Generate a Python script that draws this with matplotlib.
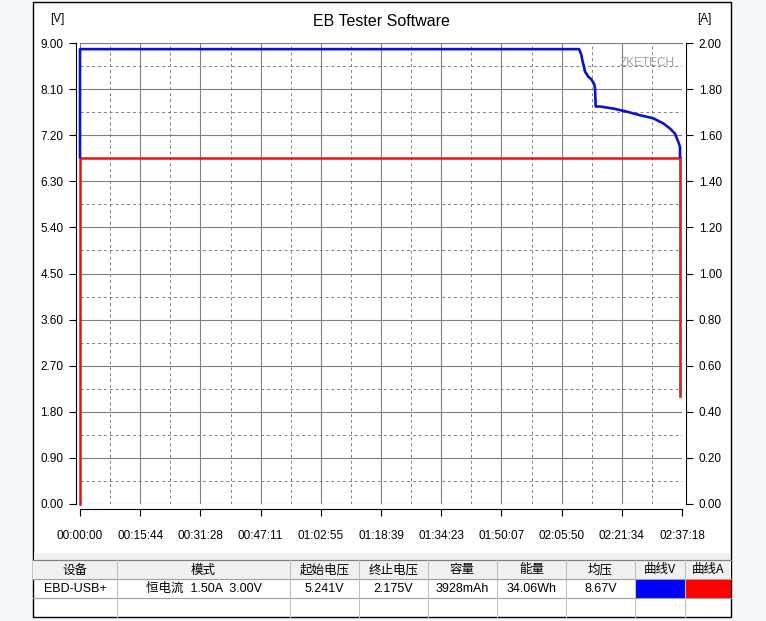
import matplotlib
matplotlib.use('Agg')
import matplotlib.pyplot as plt
from matplotlib.patches import Rectangle
from matplotlib.ticker import FixedLocator

plt.rcParams['font.family'] = ['Liberation Sans', 'Noto Sans CJK SC', 'DejaVu Sans']

# ---- data ----
t_volt = [0, 0, 7823, 7845, 7860, 7881, 7900, 7917, 7940, 7969, 8000, 8022, 8060, 8074, 8085,
          8152, 8361, 8571, 8780, 8988, 9145, 9250, 9328, 9380, 9407, 9407]
volt = [6.77, 8.88, 8.88, 8.82, 8.77, 8.63, 8.55, 8.44, 8.40, 8.34, 8.31, 8.28, 8.20, 8.12, 7.76,
        7.76, 7.72, 7.66, 7.59, 7.53, 7.43, 7.33, 7.23, 7.07, 6.97, 6.78]
t_curr = [0, 0, 9410]
curr = [0.0, 1.50, 1.50]
t_cut = [9410, 9410]
curr_cut = [1.50, 0.47]

t_max = 9438
x_ticks = [i * t_max / 10 for i in range(11)]
x_labels = ['00:00:00', '00:15:44', '00:31:28', '00:47:11', '01:02:55', '01:18:39',
            '01:34:23', '01:50:07', '02:05:50', '02:21:34', '02:37:18']
v_ticks = [0.9 * i for i in range(11)]
v_labels = ['0.00', '0.90', '1.80', '2.70', '3.60', '4.50', '5.40', '6.30', '7.20', '8.10', '9.00']
a_ticks = [0.2 * i for i in range(11)]
a_labels = ['0.00', '0.20', '0.40', '0.60', '0.80', '1.00', '1.20', '1.40', '1.60', '1.80', '2.00']

headers = ['设备', '模式', '起始电压', '终止电压', '容量', '能量', '均压', '曲线V', '曲线A']
row_vals = ['EBD-USB+', '恒电流  1.50A  3.00V', '5.241V', '2.175V', '3928mAh',
            '34.06Wh', '8.67V', '', '']
cell_colors = [None, None, None, None, None, None, None, '#0000FF', '#FF0000']

W, H = 766, 621
fig = plt.figure(figsize=(W / 100, H / 100), dpi=100)
fig.patch.set_facecolor('#F4F7FC')

# pixel-space background layer
bg = fig.add_axes([0, 0, 1, 1], zorder=-5)
bg.set_xlim(0, W)
bg.set_ylim(H, 0)
bg.axis('off')
bg.add_patch(Rectangle((33, 2), 698, 615, facecolor='white', edgecolor='black', lw=1))
bg.add_patch(Rectangle((34, 553), 696, 7, facecolor='#F0F0F0', edgecolor='none'))

# table
col_x = [33, 117, 290, 359, 428, 497, 566, 635, 685, 731]
row_y = [560, 579, 598, 617]
bg.add_patch(Rectangle((33, 560), 698, 19, facecolor='#F0F0F0', edgecolor='none'))
for i in range(len(headers)):
    if cell_colors[i]:
        bg.add_patch(Rectangle((col_x[i], 579), col_x[i + 1] - col_x[i], 19,
                               facecolor=cell_colors[i], edgecolor='none'))
for y in row_y[:-1]:
    bg.plot([33, 731], [y, y], color='#A0A0A0', lw=0.8)
bg.plot([33, 731], [560, 560], color='#808080', lw=0.8)
for x in col_x[1:-1]:
    bg.plot([x, x], [560, 617], color='#C0C0C0', lw=0.8)
for i, (hd, v) in enumerate(zip(headers, row_vals)):
    cx = (col_x[i] + col_x[i + 1]) / 2
    bg.text(cx, 570, hd, ha='center', va='center', fontsize=9,
            family=['Noto Sans CJK SC', 'DejaVu Sans'])
    bg.text(cx, 589, v, ha='center', va='center', fontsize=9,
            family=['Liberation Sans', 'Noto Sans CJK SC'])

# ---- chart ----
ax = fig.add_axes([80 / W, (H - 504) / H, 602 / W, 461 / H])
ax.set_facecolor('white')
ax.set_xlim(0, t_max)
ax.set_ylim(0, 9)
ax.xaxis.set_major_locator(FixedLocator(x_ticks))
ax.xaxis.set_minor_locator(FixedLocator([t + t_max / 20 for t in x_ticks[:-1]]))
ax.set_xticklabels(x_labels)
ax.yaxis.set_major_locator(FixedLocator(v_ticks))
ax.yaxis.set_minor_locator(FixedLocator([v + 0.45 for v in v_ticks[:-1]]))
ax.set_yticklabels(v_labels)
ax.grid(True, which='major', color='#808080', lw=0.8)
ax.grid(True, which='minor', color='#808080', lw=0.7, ls=(0, (3, 3)))
ax.tick_params(which='minor', length=0)
ax.tick_params(which='major', length=5, width=0.8, labelsize=8.5, colors='black')
ax.tick_params(axis='x', pad=10)
ax.tick_params(axis='y', pad=4)
ax.spines['top'].set_color('#808080')
ax.spines['top'].set_linewidth(0.8)
ax.spines['right'].set_visible(False)
ax.spines['left'].set_position(('outward', 3))
ax.spines['bottom'].set_position(('outward', 3.5))
ax.spines['left'].set_linewidth(0.8)
ax.spines['bottom'].set_linewidth(0.8)
ax.set_axisbelow(True)

ax2 = ax.twinx()
ax2.set_ylim(0, 2)
ax2.yaxis.set_major_locator(FixedLocator(a_ticks))
ax2.set_yticklabels(a_labels)
ax2.tick_params(length=5, width=0.8, labelsize=8.5, pad=4)
for s in ['top', 'left', 'bottom']:
    ax2.spines[s].set_visible(False)
ax2.spines['right'].set_position(('outward', 3))
ax2.spines['right'].set_linewidth(0.8)

ax2.plot(t_curr, curr, color='#F01010', lw=1.8, clip_on=False, zorder=3)
ax2.plot(t_cut, curr_cut, color='#C83030', lw=2.0, clip_on=False, zorder=3)
ax2.plot(t_volt, [v * 2 / 9 for v in volt], color='#0A14D0', lw=1.9, clip_on=False, zorder=4)
ax2.set_zorder(ax.get_zorder() + 1)
ax2.patch.set_visible(False)

# texts
fig.text(381 / W, 1 - 22 / H, 'EB Tester Software', ha='center', va='center', fontsize=11.5)
fig.text(57 / W, 1 - 19 / H, '[V]', ha='center', va='center', fontsize=8.5)
fig.text(704 / W, 1 - 19 / H, '[A]', ha='center', va='center', fontsize=8.5)
ax.text(0.988, 0.957, 'ZKETECH', transform=ax.transAxes, ha='right', va='center',
        fontsize=8.5, color='#A0A0A0')

fig.savefig('out.png', dpi=100, facecolor=fig.get_facecolor())
